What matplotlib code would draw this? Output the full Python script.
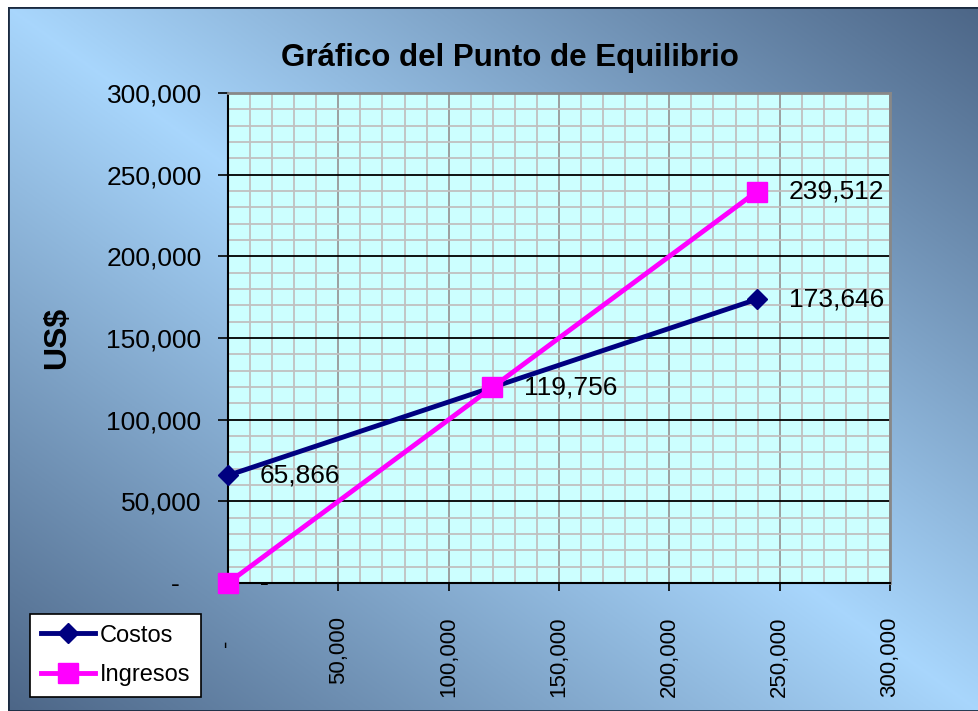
import numpy as np
import matplotlib
matplotlib.use("Agg")
import matplotlib.pyplot as plt
from matplotlib.ticker import FixedLocator, MultipleLocator

plt.rcParams['font.family'] = ['Liberation Sans', 'DejaVu Sans']

# datos del punto de equilibrio
unidades = [0, 119756, 239512]
costos = [65866, 119756, 173646]
ingresos = [0, 119756, 239512]

ticks = [0, 50000, 100000, 150000, 200000, 250000, 300000]
tick_labels = ["-", "50,000", "100,000", "150,000", "200,000", "250,000", "300,000"]


def fmt(v):
    return "-" if v == 0 else f"{v:,.0f}"


fig = plt.figure(figsize=(9.79, 7.11), dpi=100)

# fondo degradado
bg = fig.add_axes([8 / 979, 0, 1 - 8 / 979, 1 - 7 / 711], zorder=-10)
u = np.linspace(0, 1, 400)[None, :]
v = np.linspace(0, 1, 300)[:, None]
t = np.clip(np.abs(u - v), 0, 1)[..., None]
claro = np.array([0.66, 0.84, 0.99])
oscuro = np.array([0.30, 0.40, 0.53])
img = claro + (oscuro - claro) * t
bg.imshow(img, aspect='auto', extent=[0, 1, 0, 1])
bg.set_xlim(0, 1)
bg.set_ylim(0, 1)
bg.axis('off')
bg.plot([0, 1, 1, 0, 0], [0, 0, 1, 1, 0], color='#1a2a40', lw=2)

ax = fig.add_axes([228 / 979, 1 - 583 / 711, (890 - 228) / 979, (583 - 93) / 711])
ax.set_facecolor('#ccffff')
ax.set_xlim(0, 300000)
ax.set_ylim(0, 300000)

ax.xaxis.set_major_locator(FixedLocator(ticks))
ax.yaxis.set_major_locator(FixedLocator(ticks))
ax.xaxis.set_minor_locator(MultipleLocator(10000))
ax.yaxis.set_minor_locator(MultipleLocator(10000))
ax.set_xticklabels(["-    "] + tick_labels[1:], rotation=90, fontsize=16)
ax.set_yticklabels(["-   "] + tick_labels[1:], fontsize=19)
ax.tick_params(axis='y', which='major', direction='out', length=7, width=1.2, pad=12)
ax.tick_params(axis='x', which='major', direction='out', length=6, width=1.2, pad=18)
ax.tick_params(which='minor', length=0)

ax.grid(which='minor', color='#c0c0c0', lw=1.3)
ax.grid(axis='x', which='major', color='#999999', lw=1.3)
ax.grid(axis='y', which='major', color='black', lw=1.3)
ax.set_axisbelow(True)

for s in ['top', 'right']:
    ax.spines[s].set_color('#888888')
    ax.spines[s].set_linewidth(2)
for s in ['left', 'bottom']:
    ax.spines[s].set_color('black')
    ax.spines[s].set_linewidth(1.5)

ax.plot(unidades, costos, color='#000080', lw=3.5, marker='D', ms=10,
        label='Costos', clip_on=False, zorder=5)
ax.plot(unidades, ingresos, color='#ff00ff', lw=3.5, marker='s', ms=14,
        label='Ingresos', clip_on=False, zorder=6)

for x, y in zip(unidades, costos):
    ax.annotate(fmt(y), (x, y), xytext=(32, 0), textcoords='offset pixels',
                ha='left', va='center', fontsize=19, zorder=7)
for x, y in zip(unidades, ingresos):
    if y in costos:
        continue
    ax.annotate(fmt(y), (x, y), xytext=(32, 0), textcoords='offset pixels',
                ha='left', va='center', fontsize=19,
                fontweight='bold' if y == 0 else 'normal',
                zorder=7, annotation_clip=False)

ax.set_ylabel('US$', fontsize=23, fontweight='bold')
ax.yaxis.set_label_coords(-0.235, 0.5)

fig.text(0.521, 0.919, 'Gráfico del Punto de Equilibrio', ha='center', va='center',
         fontsize=22.5, fontweight='bold')

leg = fig.legend(loc='lower left', bbox_to_anchor=(30 / 979, 14 / 711), borderaxespad=0,
                 fontsize=17, frameon=True, fancybox=False, edgecolor='black',
                 framealpha=1, handlelength=2.3, labelspacing=0.75, handletextpad=0.2,
                 borderpad=0.45)
leg.get_frame().set_linewidth(1.2)

fig.savefig('out.png', dpi=100)
